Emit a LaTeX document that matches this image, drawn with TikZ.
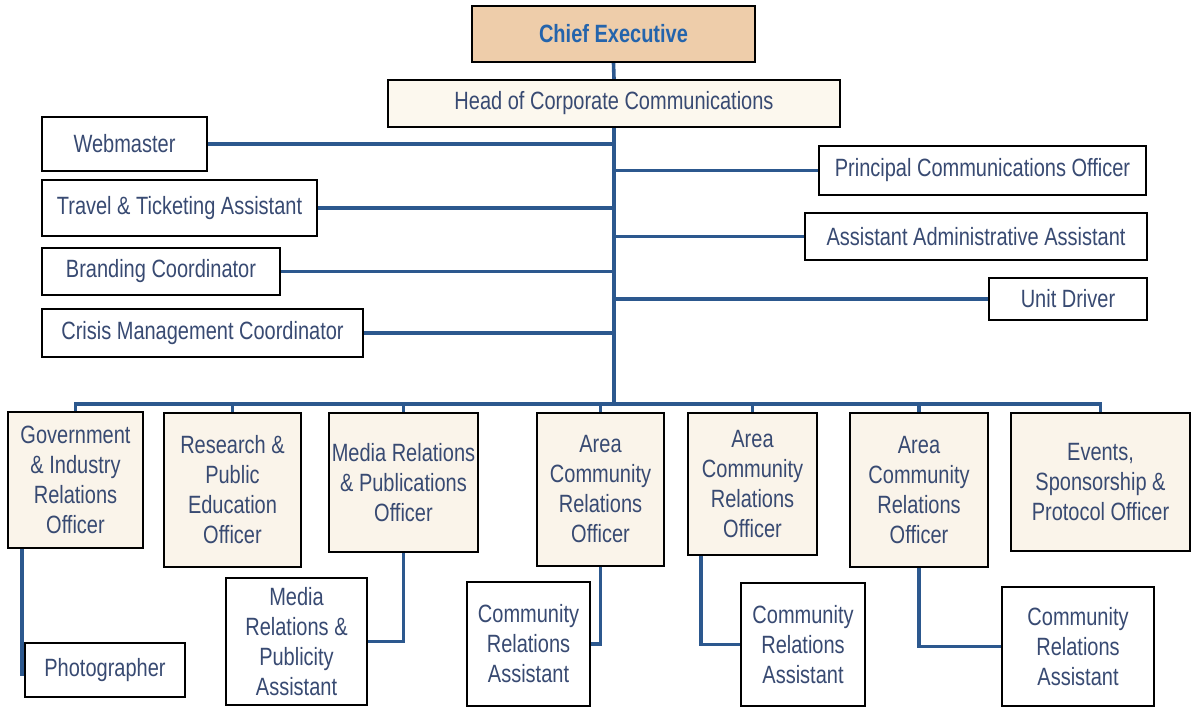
\documentclass[tikz,border=0pt]{standalone}
\usepackage{fontspec}
\setmainfont{Liberation Sans}[FakeStretch=0.8]
\definecolor{txt}{RGB}{56,74,114}
\definecolor{chieftxt}{RGB}{36,100,172}
\definecolor{chieffill}{RGB}{238,205,170}
\definecolor{cream}{RGB}{250,244,234}
\definecolor{headfill}{RGB}{252,248,238}
\definecolor{conn}{RGB}{44,88,142}
\tikzset{
  box/.style={draw=black, line width=2.2pt, fill=white, text=txt, align=center,
    inner sep=2pt, font=\fontsize{25}{30}\selectfont},
  offbox/.style={box, fill=cream},
  link/.style={draw=conn, line width=3.6pt},
}
\begin{document}
\begin{tikzpicture}[x=1pt,y=-1pt]
\useasboundingbox (0,0) rectangle (1193,709);
% top
\node[box, fill=chieffill, text=chieftxt, font=\fontsize{25}{30}\selectfont\bfseries,
  minimum width=283pt, minimum height=56pt] (chief) at (613.5,34) {Chief Executive};
\node[box, fill=headfill, minimum width=452pt, minimum height=47pt] (head) at (614,103.5) {Head of Corporate Communications};
% left staff
\node[box, minimum width=165pt, minimum height=54pt] (web) at (124.5,144) {Webmaster};
\node[box, minimum width=275pt, minimum height=56pt] (travel) at (179.5,208) {Travel \& Ticketing Assistant};
\node[box, minimum width=238pt, minimum height=47pt] (brand) at (161,271.5) {Branding Coordinator};
\node[box, minimum width=321pt, minimum height=48pt] (crisis) at (202.5,333) {Crisis Management Coordinator};
% right staff
\node[box, minimum width=327pt, minimum height=49pt] (principal) at (982.5,170.5) {Principal Communications Officer};
\node[box, minimum width=342pt, minimum height=47pt] (admin) at (976,236.5) {Assistant Administrative Assistant};
\node[box, minimum width=158pt, minimum height=42pt] (driver) at (1068,299) {Unit Driver};
% officers
\node[offbox, minimum width=135pt, minimum height=136pt] (gov) at (75.5,480) {Government\\\& Industry\\Relations\\Officer};
\node[offbox, minimum width=137pt, minimum height=154pt] (research) at (232.5,490) {Research \&\\Public\\Education\\Officer};
\node[offbox, minimum width=149pt, minimum height=139pt] (media) at (403.5,482.5) {Media Relations\\\& Publications\\Officer};
\node[offbox, minimum width=127pt, minimum height=153pt] (area1) at (600.5,489.5) {Area\\Community\\Relations\\Officer};
\node[offbox, minimum width=129pt, minimum height=142pt] (area2) at (752.5,484) {Area\\Community\\Relations\\Officer};
\node[offbox, minimum width=138pt, minimum height=154pt] (area3) at (919,490) {Area\\Community\\Relations\\Officer};
\node[offbox, minimum width=179pt, minimum height=138pt] (events) at (1100.5,482) {Events,\\Sponsorship \&\\Protocol Officer};
% assistants
\node[box, minimum width=160pt, minimum height=54pt] (photo) at (105,670) {Photographer};
\node[box, minimum width=141pt, minimum height=127pt] (mpa) at (296.5,641.5) {Media\\Relations \&\\Publicity\\Assistant};
\node[box, minimum width=123pt, minimum height=124pt] (ca1) at (528.5,644) {Community\\Relations\\Assistant};
\node[box, minimum width=124pt, minimum height=123pt] (ca2) at (803,644.5) {Community\\Relations\\Assistant};
\node[box, minimum width=152pt, minimum height=119pt] (ca3) at (1078,646.5) {Community\\Relations\\Assistant};
% connectors
\coordinate (bus) at (614,404);
\draw[link] (chief.south) -- (head.north);
\draw[link] (head.south) -- (bus);
\draw[link] (web.east) -- (web.east -| bus);
\draw[link] (travel.east) -- (travel.east -| bus);
\draw[link] (brand.east) -- (brand.east -| bus);
\draw[link] (crisis.east) -- (crisis.east -| bus);
\draw[link] (principal.west) -- (principal.west -| bus);
\draw[link] (admin.west) -- (admin.west -| bus);
\draw[link] (driver.west) -- (driver.west -| bus);
\draw[link] (gov.north) -- (gov.north |- bus) -- (events.north |- bus) -- (events.north);
\foreach \n in {research,media,area1,area2,area3}
  \draw[link] (\n.north) -- (\n.north |- bus);
\draw[link] ([xshift=15pt]gov.south west) |- ([yshift=-4pt]photo.west);
\draw[link] (media.south) |- (mpa.east);
\draw[link] (area1.south) |- (ca1.east);
\draw[link] ([xshift=14pt]area2.south west) |- (ca2.west);
\draw[link] (area3.south) |- (ca3.west);
\end{tikzpicture}
\end{document}
